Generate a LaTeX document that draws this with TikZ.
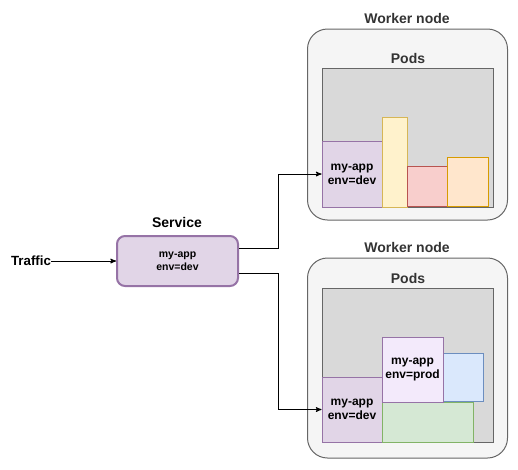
\documentclass[tikz,border=0pt]{standalone}
\usepackage{fontspec}
\setmainfont{Liberation Sans}
\usepackage{xcolor}
\usepackage{tikz}
\usetikzlibrary{arrows,positioning}

\definecolor{nodeFill}{HTML}{F5F5F5}
\definecolor{nodeLine}{HTML}{666666}
\definecolor{podsFill}{HTML}{D9D9D9}
\definecolor{titleText}{HTML}{333333}
\definecolor{devFill}{HTML}{E1D5E7}
\definecolor{devLine}{HTML}{9673A6}
\definecolor{prodFill}{HTML}{F3EAFB}
\definecolor{yellowFill}{HTML}{FFF2CC}
\definecolor{yellowLine}{HTML}{D6B656}
\definecolor{redFill}{HTML}{F8CECC}
\definecolor{redLine}{HTML}{B85450}
\definecolor{orangeFill}{HTML}{FFE6CC}
\definecolor{orangeLine}{HTML}{D79B00}
\definecolor{blueFill}{HTML}{DAE8FC}
\definecolor{blueLine}{HTML}{6C8EBF}
\definecolor{greenFill}{HTML}{D5E8D4}
\definecolor{greenLine}{HTML}{82B366}

\begin{document}
\begin{tikzpicture}[x=1pt,y=-1pt,>=stealth',line width=1pt]
  \tikzstyle{worker}=[draw=nodeLine,fill=nodeFill,rounded corners=20pt,inner sep=0pt]
  \tikzstyle{pods}=[draw=nodeLine,fill=podsFill,inner sep=0pt]
  \tikzstyle{pod}=[draw,inner sep=0pt,align=center,font=\bfseries\fontsize{12}{14}\selectfont]
  \tikzstyle{title}=[text=titleText,inner sep=0pt,font=\bfseries\fontsize{14}{16}\selectfont]

  \useasboundingbox (0,0) rectangle (518,469);

  % first worker node
  \node[worker,minimum width=200,minimum height=191] (wn1) at (407.5,124.5) {};
  \node[title] (wn1title) at (407,18) {Worker node};
  \node[title] (pods1title) at (408,58) {Pods};
  \node[pods,minimum width=171,minimum height=139] (pods1) at (407.5,137.5) {};
  \node[pod,draw=devLine,fill=devFill,minimum width=60,minimum height=66] (dev1) at (352,174) {my-app\\env=dev};
  \node[pod,draw=yellowLine,fill=yellowFill,minimum width=25,minimum height=90] (yellow1) at (394.5,162) {};
  \node[pod,draw=redLine,fill=redFill,minimum width=40,minimum height=40] (red1) at (427,186) {};
  \node[pod,draw=orangeLine,fill=orangeFill,minimum width=41,minimum height=49] (orange1) at (467.5,181.5) {};

  % second worker node
  \node[worker,minimum width=200,minimum height=200] (wn2) at (407.5,358) {};
  \node[title] (wn2title) at (407,247) {Worker node};
  \node[title] (pods2title) at (408,278) {Pods};
  \node[pods,minimum width=171,minimum height=154] (pods2) at (407.5,365) {};
  \node[pod,draw=devLine,fill=devFill,minimum width=60,minimum height=65] (dev2) at (352,409.5) {my-app\\env=dev};
  \node[pod,draw=greenLine,fill=greenFill,minimum width=91,minimum height=40] (green2) at (427.5,422) {};
  \node[pod,draw=blueLine,fill=blueFill,minimum width=40,minimum height=48] (blue2) at (463,377) {};
  \node[pod,draw=devLine,fill=prodFill,minimum width=61,minimum height=65] (prod2) at (412.5,369.5) {my-app\\env=prod};

  % service
  \node[title,text=black] (svctitle) at (177,222) {Service};
  \node[pod,draw=devLine,fill=devFill,line width=2pt,rounded corners=8pt,minimum width=121,minimum height=50,
        font=\bfseries\fontsize{10.5}{13}\selectfont] (svc) at (177.5,261) {my-app\\env=dev};
  \node[title,text=black,font=\bfseries\fontsize{13.3}{16}\selectfont] (traffic) at (31,261) {Traffic};

  \path[->] (traffic) edge (svc);
  \draw[->] ([yshift=13pt]svc.east) -- ++(39,0) |- (dev1);
  \draw[->] ([yshift=-12pt]svc.east) -- ++(39,0) |- (dev2);
\end{tikzpicture}
\end{document}
